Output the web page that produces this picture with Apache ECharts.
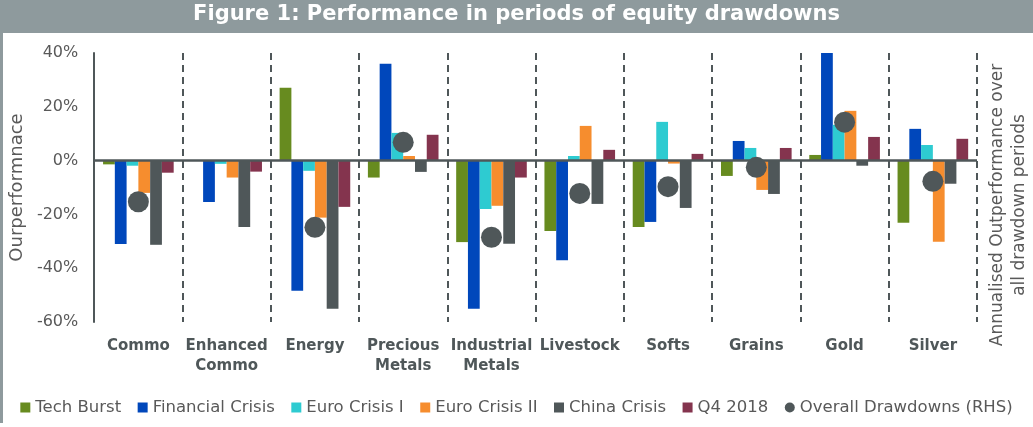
<!DOCTYPE html>
<html>
<head>
<meta charset="utf-8">
<script src="https://cdn.jsdelivr.net/npm/echarts@6/dist/echarts.min.js"></script>
<style>
html,body{margin:0;padding:0;background:#fff;}
#chart{width:1033px;height:427px;}
</style>
</head>
<body>
<div id="chart"></div>
<script>
const categories = ['Commo','Enhanced\nCommo','Energy','Precious\nMetals','Industrial\nMetals','Livestock','Softs','Grains','Gold','Silver'];
const yTicks = [-60, -40, -20, 0, 20, 40];
const techBurst = [-1.4, 0, 27.1, -6.3, -30.3, -26.2, -24.7, -5.7, 2.1, -23.1];
const financialCrisis = [-31.0, -15.4, -48.4, 36.0, -55.1, -37.0, -22.8, 7.3, 40.0, 11.8];
const euroCrisisI = [-1.9, -1.2, -3.8, 10.3, -18.0, 1.7, 14.4, 4.7, 13.3, 5.8];
const euroCrisisII = [-12.0, -6.3, -21.2, 1.7, -16.8, 12.9, -1.1, -10.9, 18.5, -30.2];
const chinaCrisis = [-31.3, -24.7, -55.1, -4.2, -30.9, -16.1, -17.6, -12.4, -1.9, -8.6];
const q42018 = [-4.5, -4.1, -17.2, 9.6, -6.3, 4.0, 2.5, 4.7, 8.8, 8.1];
const overallDrawdowns = [-15.3, null, -24.8, 6.8, -28.5, -12.2, -9.7, -2.5, 14.3, -7.7];

const seriesNames = ['Tech Burst','Financial Crisis','Euro Crisis I','Euro Crisis II','China Crisis','Q4 2018'];
const seriesData = [techBurst, financialCrisis, euroCrisisI, euroCrisisII, chinaCrisis, q42018];
const colors = ['#678B1F','#0047BB','#2ECBD1','#F68D2E','#4F5759','#84344E'];
const dotName = 'Overall Drawdowns (RHS)';

const FONT = 'DejaVu Sans';
const chart = echarts.init(document.getElementById('chart'));

const barSeries = seriesNames.map((n, i) => ({
  name: n,
  type: 'bar',
  data: seriesData[i],
  itemStyle: { color: colors[i] },
  barGap: '0%',
  barCategoryGap: '20%',
  z: 2
}));

const option = {
  animation: false,
  textStyle: { fontFamily: FONT },
  graphic: [
    { type: 'rect', left: 0, top: 0, shape: { width: 1033, height: 33 }, style: { fill: '#8E9A9D' }, z: 0 },
    { type: 'rect', left: 0, top: 0, shape: { width: 3, height: 423 }, style: { fill: '#8E9A9D' }, z: 0 },
    { type: 'text', left: 'center', top: 4, style: { text: 'Figure 1: Performance in periods of equity drawdowns', fill: '#ffffff', font: 'bold 21px "DejaVu Sans"' }, z: 10 },
    { type: 'text', x: 998, y: 205, rotation: Math.PI / 2, style: { text: 'Annualised Outperformance over', fill: '#595959', font: '17px "DejaVu Sans"', textAlign: 'center', textVerticalAlign: 'middle' } },
    { type: 'text', x: 1020, y: 205, rotation: Math.PI / 2, style: { text: 'all drawdown periods', fill: '#595959', font: '17px "DejaVu Sans"', textAlign: 'center', textVerticalAlign: 'middle' } }
  ],
  legend: {
    bottom: 6,
    left: 'center',
    itemWidth: 10,
    itemHeight: 10,
    itemGap: 16.5,
    textStyle: { fontFamily: FONT, fontSize: 16.5, color: '#595959' },
    data: seriesNames.map(n => ({ name: n, icon: 'rect' })).concat([{ name: dotName, icon: 'circle' }])
  },
  grid: { left: 94, right: 56, top: 53, height: 269, containLabel: false },
  xAxis: {
    type: 'category',
    data: categories,
    axisLine: { show: false },
    axisTick: { show: false },
    axisLabel: { interval: 0, margin: 14, fontFamily: FONT, fontWeight: 'bold', fontSize: 15, color: '#4F5759', lineHeight: 20 },
    splitLine: { show: true, interval: 0, lineStyle: { type: [7, 5], color: '#4F5759', width: 2 } }
  },
  yAxis: [
    {
      type: 'value', min: yTicks[0], max: yTicks[yTicks.length - 1], interval: 20,
      axisLine: { show: true, lineStyle: { color: '#4F5759', width: 2 } },
      axisTick: { show: false },
      splitLine: { show: false },
      axisLabel: { formatter: '{value}%', fontFamily: FONT, fontSize: 16, color: '#595959', margin: 16 },
      name: 'Ourperformnace', nameLocation: 'middle', nameGap: 68, nameRotate: 90,
      nameTextStyle: { fontFamily: FONT, fontSize: 18, color: '#595959' }
    },
    {
      type: 'value', min: yTicks[0], max: yTicks[yTicks.length - 1], interval: 20, position: 'right',
      axisLine: { show: false }, axisTick: { show: false }, axisLabel: { show: false }, splitLine: { show: false }
    }
  ],
  series: barSeries.concat([
    {
      name: 'zero', type: 'line', data: [], z: 3, silent: true,
      markLine: { silent: true, symbol: 'none', label: { show: false }, lineStyle: { type: 'solid', color: '#4F5759', width: 2.5 }, data: [{ yAxis: 0 }] }
    },
    {
      name: dotName, type: 'scatter', yAxisIndex: 1, data: overallDrawdowns,
      symbol: 'circle', symbolSize: 21, itemStyle: { color: '#4F5759', opacity: 1 }, z: 4
    }
  ])
};
chart.setOption(option);
</script>
</body>
</html>
